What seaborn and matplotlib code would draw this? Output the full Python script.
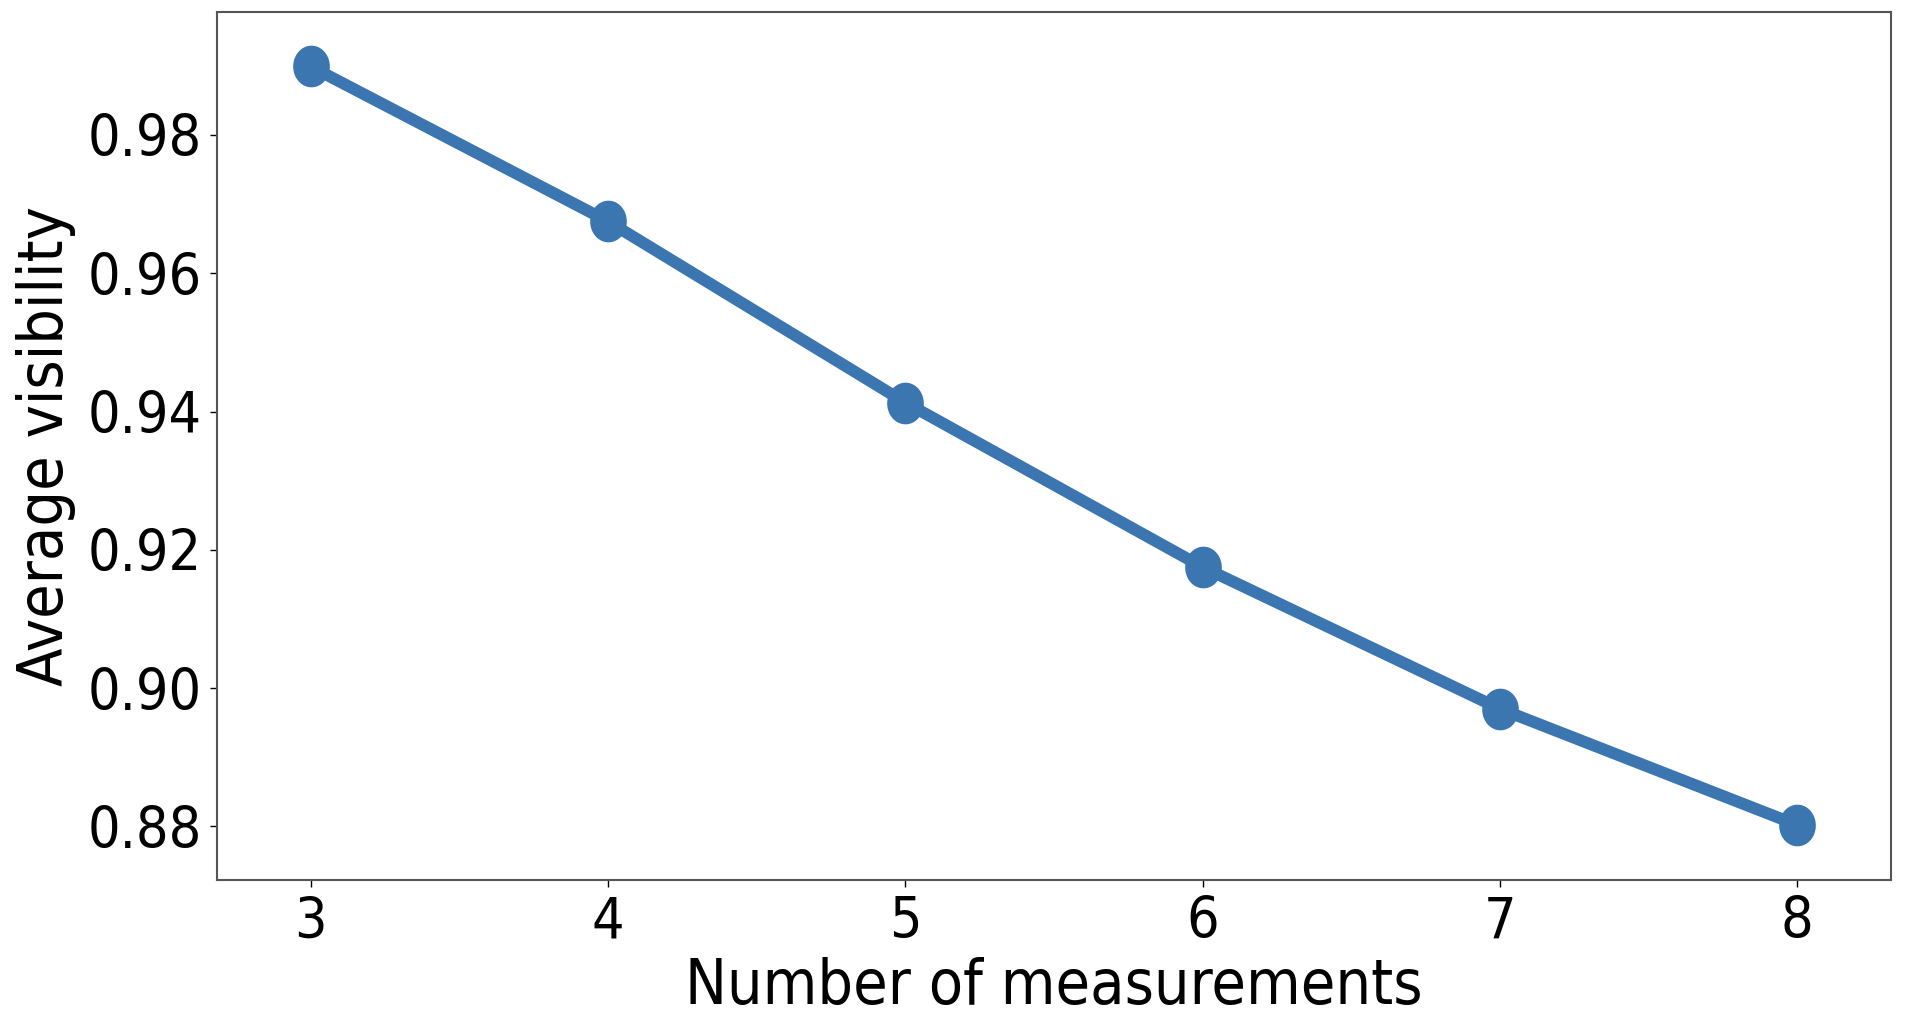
import numpy as np
import pandas as pd
import matplotlib
matplotlib.use("Agg")
import matplotlib.pyplot as plt
from matplotlib.path import Path
import seaborn as sns

# values
n_measurements = [3, 4, 5, 6, 7, 8]
avg_visibility = [0.9899, 0.9675, 0.9413, 0.9175, 0.8970, 0.8802]
y_ticks = [0.88, 0.90, 0.92, 0.94, 0.96, 0.98]

df = pd.DataFrame({"n": n_measurements, "vis": avg_visibility})

sns.set_style("ticks")
plt.rcParams['font.family'] = ['DejaVu Sans']
plt.rcParams['font.stretch'] = 'condensed'
plt.rcParams['text.color'] = 'black'
plt.rcParams['axes.labelcolor'] = 'black'

# the markers look slightly taller than wide in the reference
t = np.linspace(0, 2 * np.pi, 60)
oval = Path(np.column_stack([0.88 * np.cos(t), np.sin(t)]), closed=True)

fig = plt.figure(figsize=(19.08, 10.24), dpi=100)
ax = fig.add_axes([217 / 1908, 1 - 880 / 1024, (1891 - 217) / 1908, (880 - 12) / 1024])

sns.lineplot(data=df, x="n", y="vis", ax=ax, color="#3b76b0",
             linewidth=8.5, marker=oval, markersize=30, markeredgewidth=0)

ax.set_xlim(2.685, 8.315)
ax.set_ylim(0.87225, 0.99778)
ax.set_xticks(n_measurements)
ax.set_yticks(y_ticks)
ax.set_yticklabels([f"{v:.2f}" for v in y_ticks])
ax.tick_params(labelsize=41, length=5, width=1.0, pad=6, colors="black")
ax.set_xlabel("Number of measurements", fontsize=45, labelpad=5)
ax.set_ylabel("Average visibility", fontsize=45, labelpad=8)
for s in ax.spines.values():
    s.set_color("#555555")
    s.set_linewidth(1.5)

fig.savefig("out.png", dpi=100)
